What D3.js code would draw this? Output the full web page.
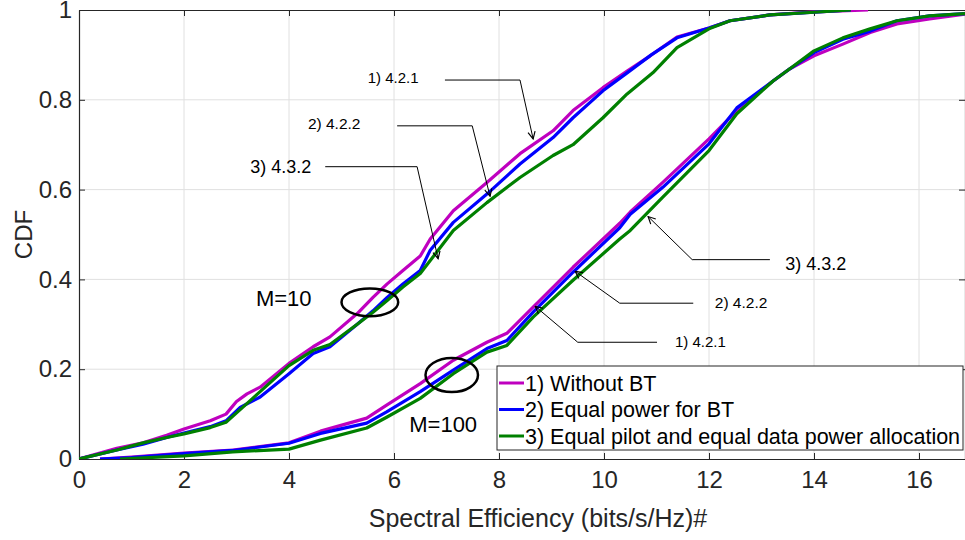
<!DOCTYPE html>
<html>
<head>
<meta charset="utf-8">
<script src="https://cdn.jsdelivr.net/npm/d3@7/dist/d3.min.js"></script>
<style>
  body { margin: 0; background: #fff; }
  svg { display: block; font-family: "Liberation Sans", Arial, sans-serif; }
</style>
</head>
<body>
<svg id="chart" width="965" height="540"></svg>
<script>
// series names, in legend / draw order
var seriesNames = [
  '1) Without BT',
  '2) Equal power for BT',
  '3) Equal pilot and equal data power allocation'
];
var seriesColors = ['#bf00bf', '#0000ff', '#008000'];

var xTicks = [0, 2, 4, 6, 8, 10, 12, 14, 16];
var yTicks = [0, 0.2, 0.4, 0.6, 0.8, 1];

// CDF points [spectral efficiency, cdf], M = 10
var m10Without = [[0, 0], [0.72, 0.024], [1.22, 0.036], [1.67, 0.053], [2, 0.067], [2.5, 0.085],
  [2.8, 0.1], [3.0, 0.128], [3.2, 0.145], [3.45, 0.16], [4, 0.213], [4.46, 0.25], [4.78, 0.272],
  [5.3, 0.324], [5.6, 0.36], [5.87, 0.39], [6.17, 0.42], [6.5, 0.452], [6.69, 0.49], [7.13, 0.553],
  [7.77, 0.616], [8.4, 0.68], [9.03, 0.731], [9.41, 0.776], [9.98, 0.827], [10.44, 0.864],
  [10.88, 0.898], [11.39, 0.94], [12, 0.96], [12.4, 0.976], [13.16, 0.989], [14, 0.996],
  [15.03, 1]];
var m10Equal = [[0, 0], [0.72, 0.02], [1.22, 0.033], [1.67, 0.048], [2, 0.058], [2.5, 0.072],
  [2.8, 0.085], [3.07, 0.115], [3.45, 0.138], [4, 0.19], [4.46, 0.235], [4.78, 0.25], [5.3, 0.3],
  [5.6, 0.33], [5.87, 0.36], [6.17, 0.39], [6.5, 0.42], [6.69, 0.465], [7.13, 0.527],
  [7.77, 0.59], [8.4, 0.657], [9.03, 0.716], [9.41, 0.76], [9.98, 0.82], [10.44, 0.86],
  [10.9, 0.9], [11.39, 0.938], [12, 0.96], [12.4, 0.976], [13.16, 0.989], [14, 0.995],
  [14.7, 1]];
var m10Pilot = [[0, 0], [0.72, 0.02], [1.22, 0.036], [1.67, 0.048], [2, 0.056], [2.5, 0.07],
  [2.8, 0.082], [3.07, 0.11], [3.45, 0.15], [4, 0.208], [4.46, 0.242], [4.78, 0.255], [5.3, 0.3],
  [5.6, 0.327], [5.87, 0.353], [6.17, 0.383], [6.5, 0.413], [7.13, 0.509], [7.77, 0.571],
  [8.4, 0.627], [9.03, 0.676], [9.41, 0.7], [9.98, 0.76], [10.44, 0.813], [10.93, 0.86],
  [11.39, 0.916], [12, 0.958], [12.4, 0.976], [13.16, 0.989], [14, 0.995], [14.7, 1]];

// M = 100
var m100Without = [[0.4, 0], [1, 0.004], [2, 0.013], [2.93, 0.02], [4, 0.036], [4.6, 0.062],
  [5.48, 0.091], [5.86, 0.12], [6.5, 0.168], [7.13, 0.22], [7.77, 0.26], [8.15, 0.28],
  [8.65, 0.338], [9.41, 0.427], [10.3, 0.525], [10.5, 0.55], [11.12, 0.616], [12, 0.713],
  [12.53, 0.776], [13.22, 0.842], [13.54, 0.869], [14, 0.898], [14.55, 0.924], [15.07, 0.95],
  [15.58, 0.969], [16.2, 0.98], [16.88, 0.991]];
var m100Equal = [[0.4, 0], [1, 0.003], [2, 0.012], [2.93, 0.019], [4, 0.035], [4.6, 0.057],
  [5.48, 0.08], [5.86, 0.105], [6.5, 0.15], [7.13, 0.198], [7.77, 0.246], [8.15, 0.264],
  [8.65, 0.327], [9.41, 0.416], [10.3, 0.515], [10.5, 0.545], [11.12, 0.605], [12, 0.702],
  [12.53, 0.782], [13.22, 0.842], [13.54, 0.869], [14, 0.905], [14.55, 0.935], [15.07, 0.953],
  [15.58, 0.976], [16.2, 0.987], [16.88, 0.992]];
var m100Pilot = [[0.78, 0], [2, 0.007], [2.93, 0.016], [4, 0.022], [4.6, 0.042], [5.48, 0.069],
  [5.86, 0.093], [6.5, 0.135], [7.13, 0.19], [7.77, 0.238], [8.15, 0.253], [8.65, 0.316],
  [9.41, 0.398], [10.3, 0.49], [10.5, 0.509], [11.12, 0.583], [12, 0.687], [12.53, 0.769],
  [13.22, 0.842], [13.54, 0.869], [14, 0.909], [14.55, 0.938], [15.07, 0.958], [15.58, 0.976],
  [16.2, 0.987], [16.88, 0.992]];

// callouts: label, label anchor and leader polyline in data units
var callouts = [
  { text: '1) 4.2.1', size: 15, at: [5.5, 0.838], path: [[6.97, 0.844], [8.4, 0.844], [8.65, 0.713]] },
  { text: '2) 4.2.2', size: 15.5, at: [4.36, 0.736], path: [[6.06, 0.742], [7.49, 0.742], [7.83, 0.585]] },
  { text: '3) 4.3.2', size: 18, at: [3.26, 0.636], path: [[4.69, 0.651], [6.44, 0.651], [6.84, 0.446]] },
  { text: '3) 4.3.2', size: 18, at: [13.45, 0.42], path: [[13.16, 0.444], [11.68, 0.444], [10.84, 0.54]] },
  { text: '2) 4.2.2', size: 15.5, at: [12.11, 0.336], path: [[11.7, 0.347], [10.3, 0.347], [9.45, 0.418]] },
  { text: '1) 4.2.1', size: 15, at: [11.35, 0.249], path: [[11.01, 0.26], [9.5, 0.26], [8.69, 0.34]] }
];
var groupLabels = [
  { text: 'M=10', at: [3.37, 0.34], center: [5.54, 0.349], rx: 0.54, ry: 0.031 },
  { text: 'M=100', at: [6.29, 0.06], center: [7.1, 0.187], rx: 0.5, ry: 0.038 }
];

var margin = { top: 10, right: 0, bottom: 81, left: 79 };
var svg = d3.select('#chart');
var width = +svg.attr('width') - margin.left - margin.right;
var height = +svg.attr('height') - margin.top - margin.bottom;
var axisColor = '#262626';

var x = d3.scaleLinear().domain([0, width / 52.5]).range([0, width]);
var y = d3.scaleLinear().domain([0, 1]).range([height, 0]);

var g = svg.append('g')
  .attr('transform', 'translate(' + margin.left + ',' + margin.top + ')');

g.append('defs')
  .append('clipPath')
    .attr('id', 'plot-clip')
  .append('rect')
    .attr('width', width)
    .attr('height', height);

g.select('defs')
  .append('marker')
    .attr('id', 'arrow')
    .attr('viewBox', '0 0 10 10')
    .attr('refX', 9)
    .attr('refY', 5)
    .attr('markerWidth', 9)
    .attr('markerHeight', 9)
    .attr('markerUnits', 'userSpaceOnUse')
    .attr('orient', 'auto')
  .append('path')
    .attr('d', 'M1,1 L9,5 L1,9')
    .attr('fill', 'none')
    .attr('stroke', '#000')
    .attr('stroke-width', 1.3);

// grid
g.append('g')
  .selectAll('line.vgrid')
  .data(xTicks.slice(1))
  .enter().append('line')
    .attr('x1', function (d) { return x(d); })
    .attr('x2', function (d) { return x(d); })
    .attr('y1', 0)
    .attr('y2', height)
    .attr('stroke', '#e0e0e0');
g.append('g')
  .selectAll('line.hgrid')
  .data(yTicks.slice(1, -1))
  .enter().append('line')
    .attr('x1', 0)
    .attr('x2', width)
    .attr('y1', function (d) { return y(d); })
    .attr('y2', function (d) { return y(d); })
    .attr('stroke', '#e0e0e0');

// axes, matlab style box with inward ticks
function styleAxis(sel) {
  sel.select('.domain').attr('stroke', axisColor).attr('stroke-width', 1.2);
  sel.selectAll('.tick line').attr('stroke', axisColor);
  sel.selectAll('.tick text')
    .attr('fill', axisColor)
    .style('font-size', '24px');
}

g.append('g')
  .attr('transform', 'translate(0,' + height + ')')
  .call(d3.axisBottom(x).tickValues(xTicks).tickSizeInner(-6).tickSizeOuter(0).tickPadding(12))
  .call(styleAxis);
g.append('g')
  .call(d3.axisTop(x).tickValues(xTicks).tickSizeInner(-6).tickSizeOuter(0).tickFormat(''))
  .call(styleAxis);
g.append('g')
  .call(d3.axisLeft(y).tickValues(yTicks).tickFormat(d3.format('~g')).tickSizeInner(-6).tickSizeOuter(0).tickPadding(7))
  .call(styleAxis);
g.append('g')
  .attr('transform', 'translate(' + width + ',0)')
  .call(d3.axisRight(y).tickValues(yTicks).tickSizeInner(-6).tickSizeOuter(0).tickFormat(''))
  .call(styleAxis);

// curves
var line = d3.line()
  .x(function (d) { return x(d[0]); })
  .y(function (d) { return y(d[1]); });

var curves = [
  { s: 0, pts: m10Without }, { s: 0, pts: m100Without },
  { s: 1, pts: m10Equal }, { s: 1, pts: m100Equal },
  { s: 2, pts: m10Pilot }, { s: 2, pts: m100Pilot }
];

g.append('g')
  .attr('clip-path', 'url(#plot-clip)')
  .selectAll('path')
  .data(curves)
  .enter().append('path')
    .attr('d', function (d) { return line(d.pts); })
    .attr('fill', 'none')
    .attr('stroke', function (d) { return seriesColors[d.s]; })
    .attr('stroke-width', 3.2)
    .attr('stroke-linejoin', 'round');

// callouts
var call = g.append('g').attr('class', 'callouts');
call.selectAll('path')
  .data(callouts)
  .enter().append('path')
    .attr('d', function (d) { return line(d.path); })
    .attr('fill', 'none')
    .attr('stroke', '#000')
    .attr('stroke-width', 1)
    .attr('marker-end', 'url(#arrow)');
call.selectAll('text')
  .data(callouts)
  .enter().append('text')
    .attr('x', function (d) { return x(d.at[0]); })
    .attr('y', function (d) { return y(d.at[1]); })
    .style('font-size', function (d) { return d.size + 'px'; })
    .attr('fill', '#000')
    .text(function (d) { return d.text; });

var grp = g.append('g').attr('class', 'groups');
grp.selectAll('ellipse')
  .data(groupLabels)
  .enter().append('ellipse')
    .attr('cx', function (d) { return x(d.center[0]); })
    .attr('cy', function (d) { return y(d.center[1]); })
    .attr('rx', function (d) { return x(d.rx) - x(0); })
    .attr('ry', function (d) { return y(0) - y(d.ry); })
    .attr('fill', 'none')
    .attr('stroke', '#000')
    .attr('stroke-width', 2.5);
grp.selectAll('text')
  .data(groupLabels)
  .enter().append('text')
    .attr('x', function (d) { return x(d.at[0]); })
    .attr('y', function (d) { return y(d.at[1]); })
    .style('font-size', '22px')
    .attr('fill', '#000')
    .text(function (d) { return d.text; });

// axis titles
svg.append('text')
  .attr('x', 538)
  .attr('y', 527)
  .attr('text-anchor', 'middle')
  .attr('fill', axisColor)
  .style('font-size', '25px')
  .text('Spectral Efficiency (bits/s/Hz)#');

svg.append('text')
  .attr('transform', 'translate(32,' + (margin.top + height / 2) + ') rotate(-90)')
  .attr('text-anchor', 'middle')
  .attr('fill', axisColor)
  .style('font-size', '24px')
  .text('CDF');

// legend
var legend = svg.append('g')
  .attr('transform', 'translate(497,366)');
legend.append('rect')
  .attr('width', 466)
  .attr('height', 84)
  .attr('fill', '#fff')
  .attr('stroke', axisColor)
  .attr('stroke-width', 1);
var rows = legend.selectAll('g.row')
  .data(seriesNames)
  .enter().append('g')
    .attr('class', 'row')
    .attr('transform', function (d, i) { return 'translate(0,' + (17 + i * 26.5) + ')'; });
rows.append('line')
  .attr('x1', 2)
  .attr('x2', 27)
  .attr('stroke', function (d, i) { return seriesColors[i]; })
  .attr('stroke-width', 3);
rows.append('text')
  .attr('x', 28)
  .attr('dy', '0.36em')
  .attr('fill', '#000')
  .style('font-size', '21.5px')
  .text(function (d) { return d; });
</script>
</body>
</html>
